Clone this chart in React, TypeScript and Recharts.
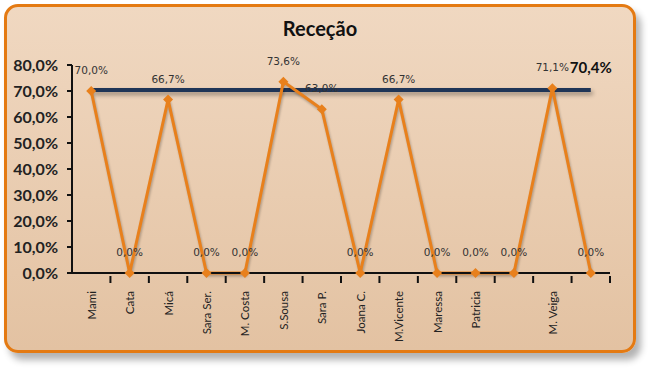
import React from "react";
import { ComposedChart, Line, XAxis, YAxis } from "recharts";

const names = ["Mami", "Cata", "Micá", "Sara Ser.", "M. Costa", "S.Sousa", "Sara P.", "Joana C.", "M.Vicente", "Maressa", "Patricia", "", "M. Veiga", ""];
const values = [70.0, 0, 66.7, 0, 0, 73.6, 63.0, 0, 66.7, 0, 0, 0, 71.1, 0];
const average = 70.4;
const yTicks = [0, 10, 20, 30, 40, 50, 60, 70, 80];

const data = names.map((name, i) => ({ key: String(i), name, value: values[i], avg: average }));

const pct = (v: number) => v.toFixed(1).replace(".", ",") + "%";

const ORANGE = "#e8801c";
const NAVY = "#1f3557";
const BAND = (610 - 72) / names.length;

const Diamond = (props: any) => {
    const { cx, cy } = props;
    if (cx == null || cy == null) return null;
    const r = 5;
    return <path d={`M${cx},${cy - r} L${cx + r},${cy} L${cx},${cy + r} L${cx - r},${cy} Z`} fill={ORANGE} />;
};

const ValueLabel = (props: any) => {
    const { x, y, value } = props;
    return (
        <text x={x} y={y - 17} textAnchor="middle" fontSize={10.5} fontFamily="DejaVu Sans" fill="#333">
            {pct(value)}
        </text>
    );
};

const AvgLabel = (props: any) => {
    const { x, y, index, value } = props;
    if (index !== names.length - 1) return null;
    return (
        <text x={x} y={y - 17} textAnchor="middle" fontSize={15} fontWeight="bold" fontFamily="Lato" fill="#111">
            {pct(value)}
        </text>
    );
};

const XTick = (props: any) => {
    const { x, y, payload } = props;
    const label = names[Number(payload.value)];
    return (
        <g>
            <line x1={x + BAND / 2} x2={x + BAND / 2} y1={y - 5} y2={y + 2} stroke="#111" strokeWidth={2} />
            <text x={x} y={y + 10} transform={`rotate(-90 ${x} ${y + 10})`} textAnchor="end" dominantBaseline="central" fontSize={11.5} fontFamily="Lato" fill="#222">
                {label}
            </text>
        </g>
    );
};

export default function App() {
    return (
        <div style={{ position: "absolute", left: 0, top: 0, width: 648, height: 370, background: "#fff" }}>
            <div
                style={{
                    position: "absolute",
                    left: 4,
                    top: 4,
                    width: 626,
                    height: 343,
                    border: "3px solid #e47a12",
                    borderRadius: 14,
                    background: "linear-gradient(to bottom, #f0d8c1, #e3c2a2)",
                    boxShadow: "5px 7px 7px rgba(0,0,0,0.3)",
                }}
            />
            <div style={{ position: "absolute", left: 0, top: 16, width: 640, textAlign: "center", fontFamily: "Lato", fontWeight: "bold", fontSize: 20, color: "#111" }}>
                Receção
            </div>
            <div style={{ position: "absolute", left: 0, top: 0 }}>
                <ComposedChart width={648} height={370} data={data} margin={{ top: 65, right: 38, bottom: 0, left: 0 }}>
                    <XAxis
                        dataKey="key"
                        type="category"
                        scale="band"
                        axisLine={{ stroke: "#111", strokeWidth: 2 }}
                        tickLine={false}
                        interval={0}
                        tick={<XTick />}
                        height={97}
                    />
                    <YAxis
                        domain={[0, 80]}
                        ticks={yTicks}
                        width={72}
                        interval={0}
                        axisLine={{ stroke: "#111", strokeWidth: 2 }}
                        tickLine={{ stroke: "#111", strokeWidth: 2 }}
                        tickSize={5}
                        tickMargin={9}
                        tickFormatter={pct}
                        tick={{ fontSize: 16, fontWeight: "bold", fontFamily: "Lato", fill: "#222" }}
                    />
                    <Line
                        dataKey="avg"
                        stroke={NAVY}
                        strokeWidth={4}
                        dot={false}
                        isAnimationActive={false}
                        label={<AvgLabel />}
                        style={{ filter: "drop-shadow(2px 3px 2px rgba(0,0,0,0.35))" }}
                    />
                    <Line
                        dataKey="value"
                        stroke={ORANGE}
                        strokeWidth={3}
                        dot={<Diamond />}
                        activeDot={false}
                        isAnimationActive={false}
                        label={<ValueLabel />}
                        style={{ filter: "drop-shadow(1px 2px 1px rgba(0,0,0,0.25))" }}
                    />
                </ComposedChart>
            </div>
        </div>
    );
}
